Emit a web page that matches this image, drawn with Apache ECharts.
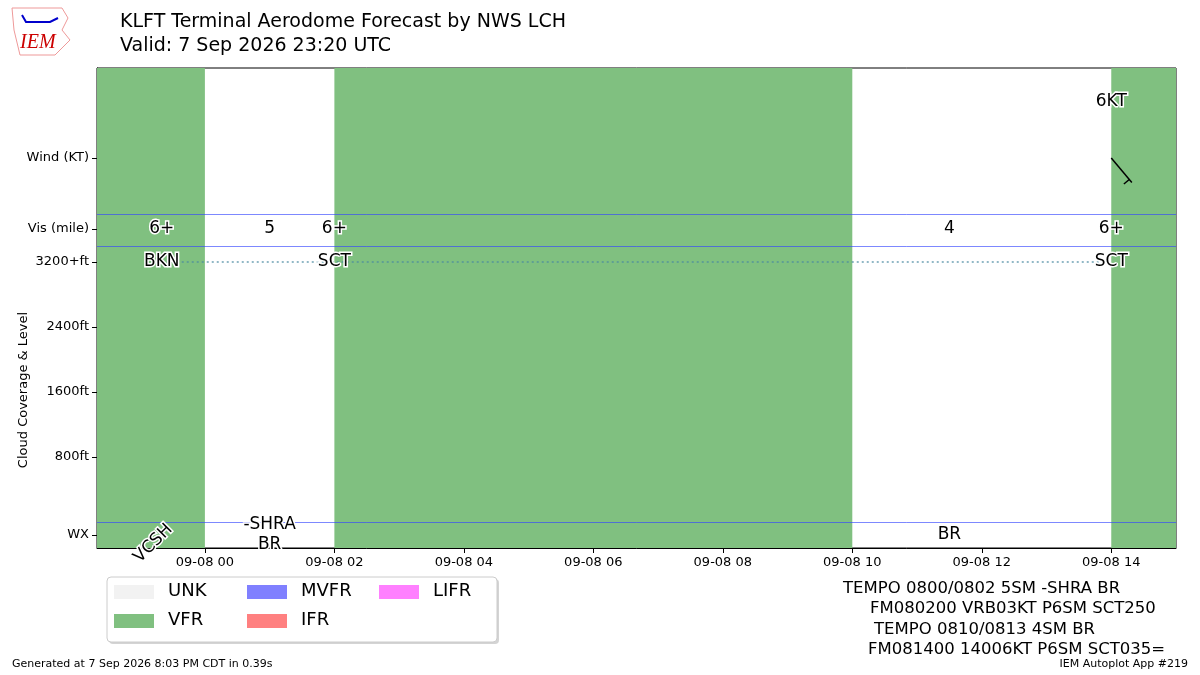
<!DOCTYPE html>
<html><head><meta charset="utf-8">
<script src="https://cdn.jsdelivr.net/npm/echarts@6/dist/echarts.min.js"></script>
<style>html,body{margin:0;padding:0;background:#fff}#c{width:1200px;height:675px}</style>
</head><body><div id="c"></div>
<script>
// hours relative to 2026-09-08 00:00 UTC
const xMin = -5/3, xMax = 15;
const tickHours = [0, 2, 4, 6, 8, 10, 12, 14];
const tickLabels = ["09-08 00","09-08 02","09-08 04","09-08 06","09-08 08","09-08 10","09-08 12","09-08 14"];
// y positions (ft-like units)
const yLabelVals = [-160, 800, 1600, 2400, 3200, 3606, 4480];
const yLabelText = ["WX", "800ft", "1600ft", "2400ft", "3200+ft", "Vis (mile)", "Wind (KT)"];
const bandLines = [0, 3397, 3790];
// flight category periods [start, end, category]
const periods = [[-5/3, 0, "VFR"], [0, 2, "UNK"], [2, 10, "VFR"], [10, 14, "UNK"], [14, 15, "VFR"]];
const catColors = {UNK: "#ffffff", VFR: "#80c080", MVFR: "#8080ff", IFR: "#ff8080", LIFR: "#ff80ff"};
// visibility labels [hour, text]
const visData = [[-2/3, "6+"], [1, "5"], [2, "6+"], [11.5, "4"], [14, "6+"]];
// clouds [hour, text]
const cloudData = [[-2/3, "BKN"], [2, "SCT"], [14, "SCT"]];
const cloudLevel = 3200;
// weather [hour, text, rotate]
const wxData = [[-2/3, "VCSH", 45], [1, "-SHRA\nBR", 0], [11.5, "BR", 0]];
// wind [hour, dir deg, speed kt]
const windData = [[14, 140, 6]];

const outline = {textBorderColor: "#fff", textBorderWidth: 3, color: "#000", opacity: 1, fontSize: 17, fontFamily: "DejaVu Sans"};
const chart = echarts.init(document.getElementById('c'));
const visY = 3606, wxY = -160, windY = 4480;
const T = (x, y, s, fs) => ({type: 'text', left: x, top: y, style: {text: s, fontSize: fs, fill: '#000', fontFamily: 'DejaVu Sans'}});
const lab = (f) => ({show: true, position: 'inside', formatter: f, ...outline});

chart.setOption({
  animation: false,
  textStyle: {fontFamily: "DejaVu Sans"},
  grid: {left: 97, right: 24, top: 68, bottom: 127, show: true, borderColor: '#000', borderWidth: 1, backgroundColor: 'transparent'},
  xAxis: {type: 'value', min: xMin, max: xMax,
    axisLine: {onZero: false, lineStyle: {color: '#000'}},
    splitLine: {show: false},
    axisTick: {customValues: tickHours, length: 5, lineStyle: {color: '#000'}},
    axisLabel: {customValues: tickHours, color: '#000', fontSize: 13, margin: 8,
      formatter: v => tickLabels[tickHours.indexOf(Math.round(v))] || ''}},
  yAxis: {type: 'value', min: -320, max: 5588,
    axisLine: {show: true, onZero: false, lineStyle: {color: '#000'}},
    splitLine: {show: false},
    axisTick: {customValues: yLabelVals, length: 5, lineStyle: {color: '#000'}},
    axisLabel: {customValues: yLabelVals, color: '#000', fontSize: 13,
      formatter: v => { const i = yLabelVals.findIndex(t => Math.abs(t - v) < 1); return i >= 0 ? yLabelText[i] : ''; }}},
  graphic: [
    {type: 'text', x: 17, y: 390, rotation: Math.PI / 2, style: {text: 'Cloud Coverage & Level', fontSize: 13, fill: '#000', fontFamily: 'DejaVu Sans', align: 'center', verticalAlign: 'top'}},
    T(120, 13, 'KLFT Terminal Aerodome Forecast by NWS LCH', 19),
    T(120, 37, 'Valid: 7 Sep 2026 23:20 UTC', 19),
    {type: 'text', left: 20, top: 33, style: {text: 'IEM', fontSize: 20, fill: '#c00', fontStyle: 'italic', fontFamily: 'Liberation Serif'}},
    {type: 'polyline', shape: {points: [[12,8],[62,8],[68,18],[62,30],[70,40],[55,55],[20,55],[14,30],[12,8]]}, style: {stroke: '#e99', fill: 'none', lineWidth: 1}},
    {type: 'polyline', shape: {points: [[22,15],[26,22],[32,22],[50,22],[58,18]]}, style: {stroke: '#00c', fill: 'none', lineWidth: 2}},
    T(12, 659, 'Generated at 7 Sep 2026 8:03 PM CDT in 0.39s', 11),
    {type: 'text', right: 12, top: 659, style: {text: 'IEM Autoplot App #219', fontSize: 11, fill: '#000', fontFamily: 'DejaVu Sans'}},
    T(843, 580, 'TEMPO 0800/0802 5SM -SHRA BR', 16.5),
    T(870, 600, 'FM080200 VRB03KT P6SM SCT250', 16.5),
    T(874, 621, 'TEMPO 0810/0813 4SM BR', 16.5),
    T(868, 641, 'FM081400 14006KT P6SM SCT035=', 16.5),
    {type: 'rect', shape: {x: 109, y: 579, width: 390, height: 65, r: 4}, style: {fill: '#aaa', opacity: 0.5}},
    {type: 'rect', shape: {x: 107, y: 577, width: 390, height: 65, r: 4}, style: {fill: '#fff', stroke: '#ccc', lineWidth: 1}},
    {type: 'rect', shape: {x: 114, y: 585, width: 40, height: 14}, style: {fill: '#f2f2f2'}},
    T(168, 582, 'UNK', 18),
    {type: 'rect', shape: {x: 114, y: 614, width: 40, height: 14}, style: {fill: catColors.VFR}},
    T(168, 611, 'VFR', 18),
    {type: 'rect', shape: {x: 247, y: 585, width: 40, height: 14}, style: {fill: catColors.MVFR}},
    T(301, 582, 'MVFR', 18),
    {type: 'rect', shape: {x: 247, y: 614, width: 40, height: 14}, style: {fill: catColors.IFR}},
    T(301, 611, 'IFR', 18),
    {type: 'rect', shape: {x: 379, y: 585, width: 40, height: 14}, style: {fill: catColors.LIFR}},
    T(433, 582, 'LIFR', 18)
  ],
  series: [
    {type: 'line', data: [], silent: true, z: 1,
      markArea: {silent: true, data: periods.filter(p => p[2] !== 'UNK').map(p => [
        {xAxis: p[0], yAxis: -320, itemStyle: {color: catColors[p[2]]}}, {xAxis: p[1], yAxis: 5588}])},
      markLine: {silent: true, symbol: 'none', label: {show: false},
        lineStyle: {color: '#3344ff', width: 0.8, type: 'solid', opacity: 0.8},
        data: bandLines.map(v => ({yAxis: v}))}},
    {type: 'line', z: 3, symbol: 'none', data: [[cloudData[0][0], cloudLevel], [cloudData[cloudData.length-1][0], cloudLevel]],
      lineStyle: {color: '#4a8aa0', width: 1.5, type: [2, 3], opacity: 0.8}},
    {type: 'scatter', z: 5, symbolSize: 0, itemStyle: {opacity: 1}, data: visData.map(d => [d[0], visY, d[1]]),
      label: lab(p => p.data[2])},
    {type: 'scatter', z: 5, symbolSize: 0, itemStyle: {opacity: 1}, data: cloudData.map(d => [d[0], cloudLevel, d[1]]),
      label: lab(p => p.data[2])},
    {type: 'scatter', z: 5, symbolSize: 0, itemStyle: {opacity: 1}, data: wxData.map(d => ({value: [d[0], wxY, d[1]],
        label: {rotate: d[2], offset: d[2] ? [-12, 0] : [0, 0]}})),
      label: {...lab(p => p.data.value[2]), lineHeight: 20}},
    {type: 'scatter', z: 5, symbolSize: 0, itemStyle: {opacity: 1}, data: windData.map(d => [d[0], windY + 700, d[2] + 'KT']),
      label: lab(p => p.data[2])},
    {type: 'custom', z: 6, data: windData.map(d => [d[0], windY, d[1], d[2]]),
      renderItem: (params, api) => {
        const p = api.coord([api.value(0), api.value(1)]);
        const a = api.value(2) * Math.PI / 180;
        const L = 32;
        const dx = Math.sin(a), dy = -Math.cos(a);
        const e = [p[0] + dx * L, p[1] + dy * L];
        const b0 = [p[0] + dx * (L - 4), p[1] + dy * (L - 4)];
        const px = -dy, py = dx;
        const b1 = [b0[0] + px * 7, b0[1] + py * 7];
        return {type: 'group', children: [
          {type: 'line', shape: {x1: p[0], y1: p[1], x2: e[0], y2: e[1]}, style: {stroke: '#000', lineWidth: 1.5}},
          {type: 'line', shape: {x1: b0[0], y1: b0[1], x2: b1[0], y2: b1[1]}, style: {stroke: '#000', lineWidth: 1.5}}
        ]};
      }}
  ]
});
</script></body></html>
